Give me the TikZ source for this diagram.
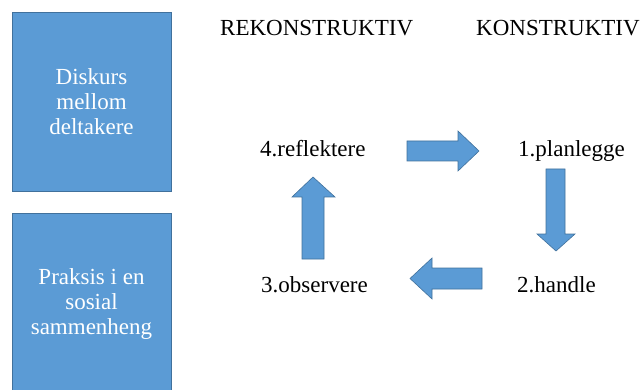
\documentclass[tikz,border=0pt]{standalone}
\usepackage{fontspec}
\setmainfont{Liberation Serif}
\definecolor{boxfill}{HTML}{5B9BD5}
\definecolor{boxline}{HTML}{41719C}
\begin{document}
\begin{tikzpicture}[x=1pt,y=-1pt,
  every node/.style={font=\fontsize{23}{25}\selectfont, inner sep=0pt},
  bluebox/.style={fill=boxfill, draw=boxline, line width=0.8pt},
  boxtext/.style={text=white, align=center},
  lbl/.style={anchor=base west, text=black},
  blockarr/.style={fill=boxfill, draw=boxline, line width=0.6pt, line join=miter}]
\useasboundingbox (0,0) rectangle (642,390);
\clip (0,0) rectangle (642,390);
% boxes
\draw[bluebox] (12,12) rectangle (171,191);
\node[boxtext] (diskurs) at (91.5,101.5) {Diskurs\\mellom\\deltakere};
\draw[bluebox] (12,213) rectangle (171,396);
\node[boxtext] (praksis) at (91.5,304) {Praksis i en\\sosial\\sammenheng};
% headings
\node[lbl] (rek) at (220,36) {REKONSTRUKTIV};
\node[lbl] (kon) at (476,36) {KONSTRUKTIV};
% labels
\node[lbl] (refl) at (260,157) {4.reflektere};
\node[lbl] (plan) at (518,157) {1.planlegge};
\node[lbl] (obs) at (261,292) {3.observere};
\node[lbl] (hand) at (517,292) {2.handle};
% block arrows
\draw[blockarr] (407,141) -- (458,141) -- (458,131) -- (479,151) -- (458,171) -- (458,161) -- (407,161) -- cycle;
\draw[blockarr] (546,169) -- (565,169) -- (565,234) -- (575,234) -- (556,251) -- (537,234) -- (546,234) -- cycle;
\draw[blockarr] (302,259) -- (302,197) -- (292,197) -- (313,177) -- (335,197) -- (324,197) -- (324,259) -- cycle;
\draw[blockarr] (482,268) -- (432,268) -- (432,258) -- (410,278.5) -- (432,299) -- (432,289) -- (482,289) -- cycle;
\end{tikzpicture}
\end{document}
